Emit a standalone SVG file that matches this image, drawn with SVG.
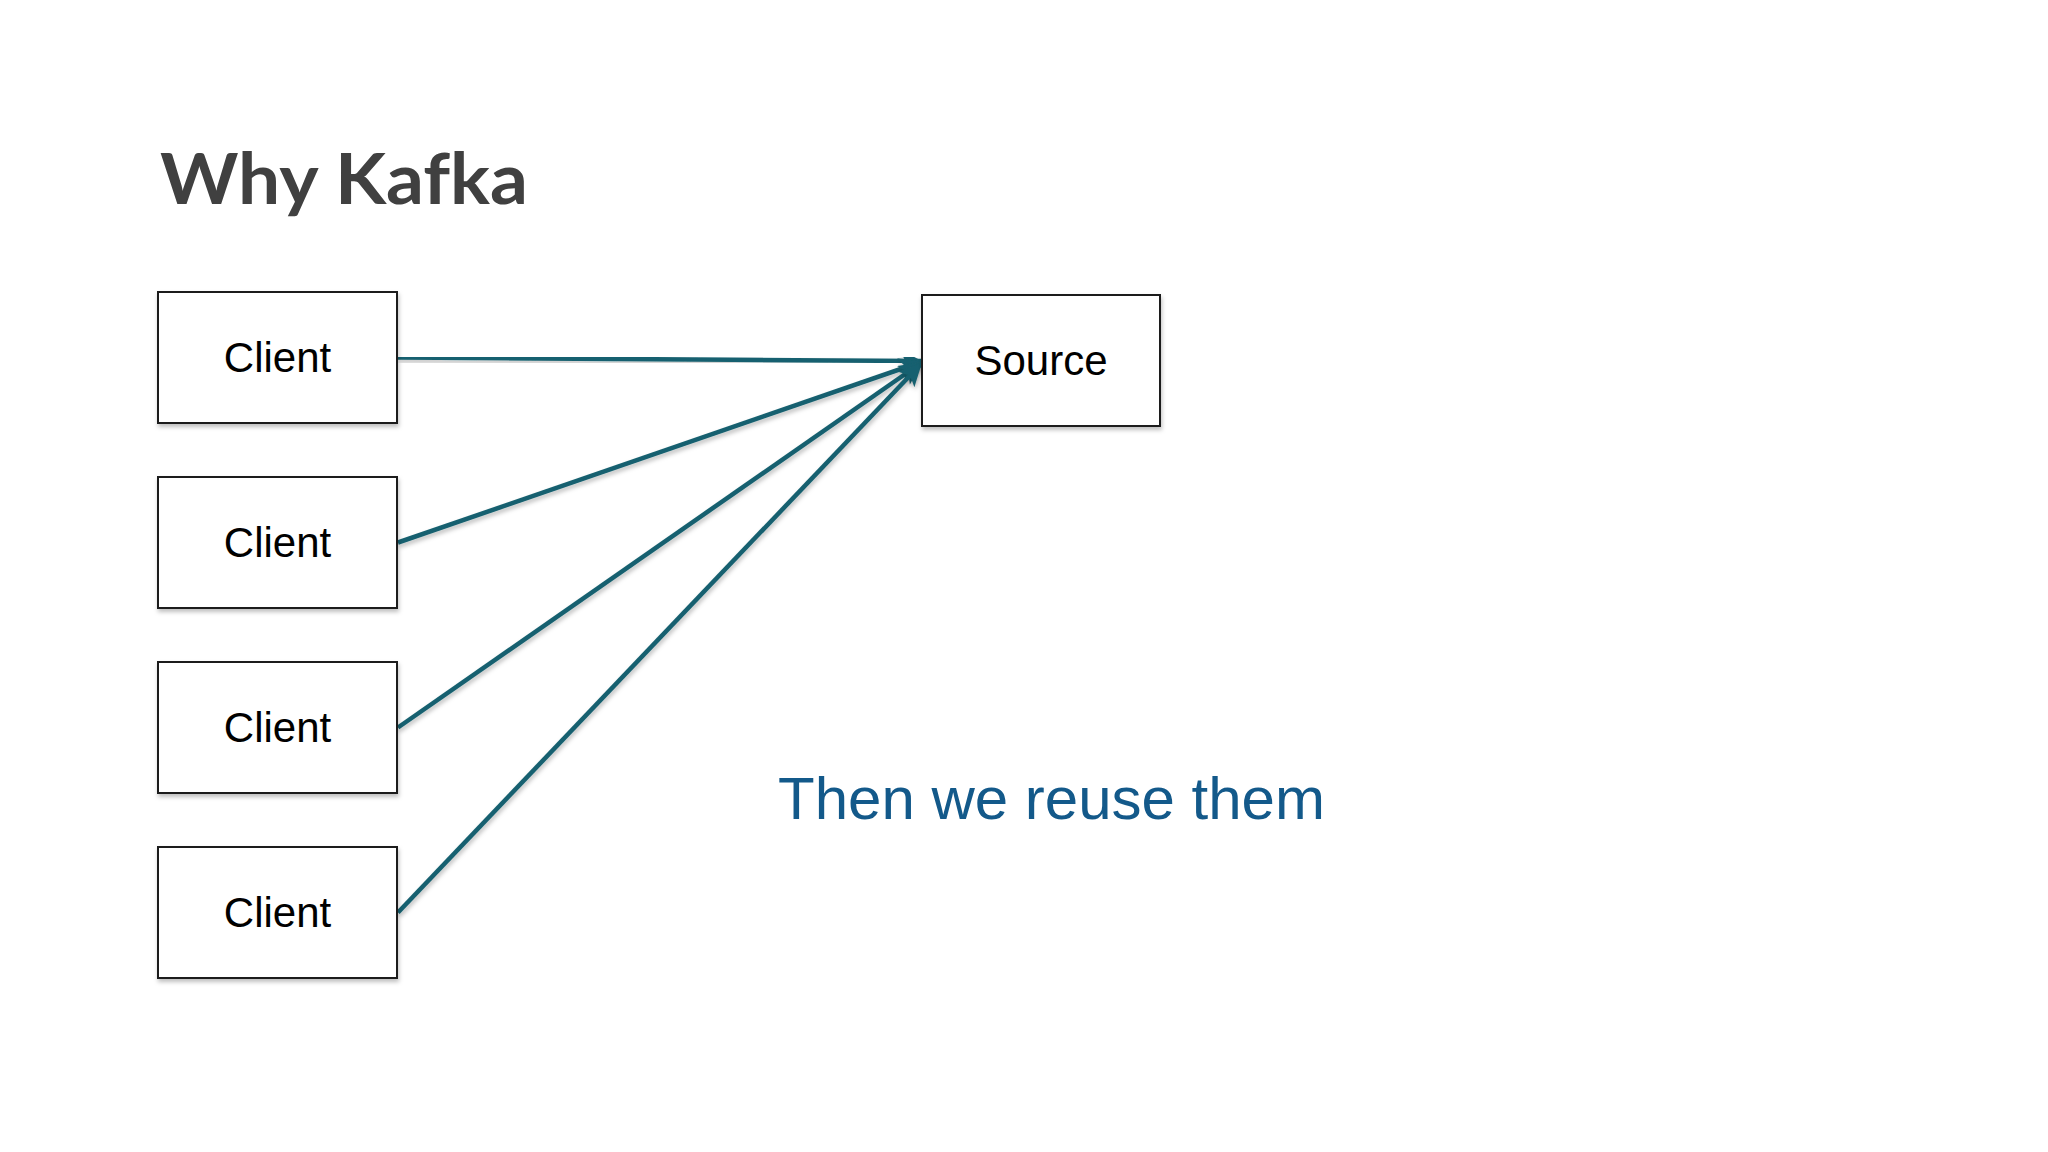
<svg xmlns="http://www.w3.org/2000/svg" width="2048" height="1152" viewBox="0 0 2048 1152">
  <style>
    .box { fill: #ffffff; stroke: #1a1a1a; stroke-width: 2; filter: url(#shadow); }
    .lbl { font-family: "Liberation Sans", Arial, sans-serif; font-size: 42px; fill: #000000; text-anchor: middle; }
    .conn { stroke: #17616f; stroke-width: 4.5; fill: none; marker-end: url(#arrow); filter: url(#shadow); }
    .title { font-family: Lato, "Liberation Sans", sans-serif; font-weight: bold; font-size: 71px; fill: #404040; font-variant-ligatures: none; }
    .note { font-family: "Liberation Sans", Arial, sans-serif; font-size: 60px; fill: #13598a; }
  </style>
  <defs>
    <filter id="shadow" x="-10%" y="-10%" width="130%" height="140%">
      <feDropShadow dx="1" dy="3" stdDeviation="2" flood-color="#000000" flood-opacity="0.25"/>
    </filter>
    <marker id="arrow" viewBox="0 0 10 10" refX="9.5" refY="5" markerWidth="6" markerHeight="5" markerUnits="strokeWidth" orient="auto">
      <path d="M0,0 L10,5 L0,10 L2.5,5 Z" fill="#17616f"/>
    </marker>
  </defs>
  <rect width="2048" height="1152" fill="#ffffff"/>

  <text class="title" x="160" y="204" textLength="368" lengthAdjust="spacingAndGlyphs">Why Kafka</text>

  <g id="connectors">
    <line class="conn" x1="398" y1="357.5" x2="921" y2="361"/>
    <line class="conn" x1="398" y1="542.5" x2="921" y2="362"/>
    <line class="conn" x1="398" y1="727.5" x2="921" y2="363"/>
    <line class="conn" x1="398" y1="912.5" x2="921" y2="364"/>
  </g>

  <g id="client1">
    <rect class="box" x="158" y="292" width="239" height="131"/>
    <text class="lbl" x="277.5" y="372">Client</text>
  </g>
  <g id="client2">
    <rect class="box" x="158" y="477" width="239" height="131"/>
    <text class="lbl" x="277.5" y="557">Client</text>
  </g>
  <g id="client3">
    <rect class="box" x="158" y="662" width="239" height="131"/>
    <text class="lbl" x="277.5" y="742">Client</text>
  </g>
  <g id="client4">
    <rect class="box" x="158" y="847" width="239" height="131"/>
    <text class="lbl" x="277.5" y="927">Client</text>
  </g>
  <g id="source">
    <rect class="box" x="922" y="295" width="238" height="131"/>
    <text class="lbl" x="1041" y="375">Source</text>
  </g>

  <text class="note" x="778" y="819">Then we reuse them</text>
</svg>
